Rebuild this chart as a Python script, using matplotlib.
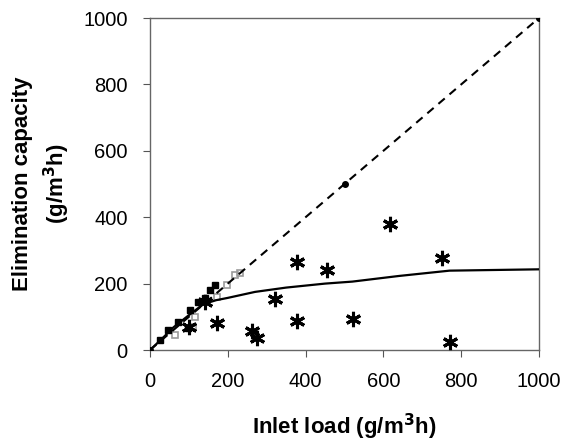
import numpy as np
import matplotlib.pyplot as plt

plt.rcParams['font.family'] = ['Liberation Sans', 'DejaVu Sans']

# model curve
curve_x = [0, 30, 60, 100, 137, 170, 200, 270, 350, 450, 520, 640, 770, 1000]
curve_y = [0, 33, 68, 105, 138, 150, 157, 175, 188, 200, 206, 223, 239, 243]

# 100 % removal line
diag_x = [0, 500, 1000]
diag_y = [0, 500, 1000]

# filled squares (low loads)
sq_x = [26, 47, 73, 98, 103, 124, 141, 154, 167]
sq_y = [30, 60, 85, 65, 120, 146, 157, 181, 196]

# grey open markers near the diagonal
gr_x = [64, 111, 116, 171, 197, 218, 232]
gr_y = [45, 70, 100, 161, 196, 226, 232]

# asterisks (high loads)
st_x = [617, 750, 377, 454, 321, 377, 523, 171, 261, 276, 771, 100, 141]
st_y = [380, 276, 266, 241, 154, 88, 93, 82, 57, 35, 25, 68, 146]

fig = plt.figure(figsize=(5.65, 4.47), dpi=100)
ax = fig.add_axes([150/565, 1-350/447, 389/565, 332/447])

ax.plot(diag_x, diag_y, color='black', lw=1.5, linestyle=(0, (4, 3)),
        marker='o', markersize=4, zorder=3)
ax.plot(curve_x, curve_y, color='black', lw=1.6, zorder=3)
ax.plot(gr_x, gr_y, linestyle='none', marker='s', markersize=4.5,
        markerfacecolor='none', markeredgecolor='#9a9a9a', markeredgewidth=1.2, zorder=2)
ax.plot(sq_x, sq_y, linestyle='none', marker='s', markersize=4.5,
        color='black', zorder=4)
ax.plot(st_x, st_y, linestyle='none', marker=(6, 2, 0), markersize=11,
        markeredgecolor='black', markeredgewidth=2.2, zorder=4)

ax.set_xlim(0, 1000)
ax.set_ylim(0, 1000)
ax.set_xticks([0, 200, 400, 600, 800, 1000])
ax.set_yticks([0, 200, 400, 600, 800, 1000])
ax.tick_params(direction='out', length=5, width=0.8, labelsize=14.5, color='#555555')
ax.tick_params(axis='x', pad=11)
ax.tick_params(axis='y', pad=11)
for s in ax.spines.values():
    s.set_color('#666666')
    s.set_linewidth(1.0)

ax.set_xlabel('Inlet load (g/m$^\\mathbf{3}$h)', fontsize=16, fontweight='bold', labelpad=15)
ax.set_ylabel('Elimination capacity\n(g/m$^\\mathbf{3}$h)', fontsize=16, fontweight='bold',
              linespacing=1.4, labelpad=8)

fig.savefig('out.png', dpi=100)
